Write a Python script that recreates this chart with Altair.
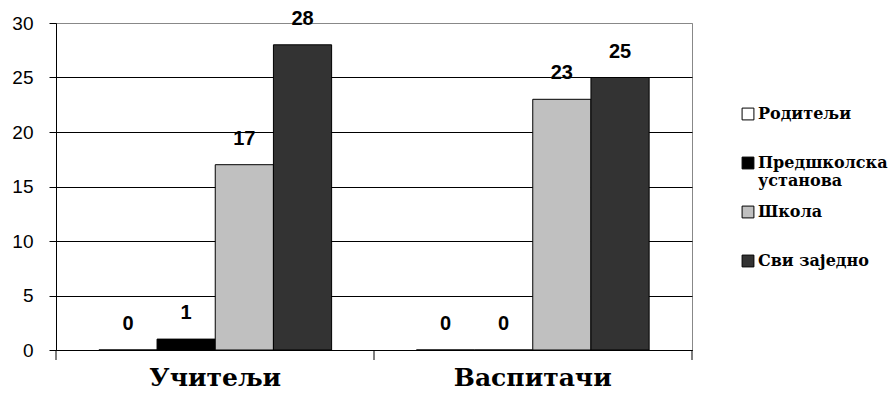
import altair as alt
import pandas as pd

# Survey counts per respondent group and answer category
groups = ["Учитељи", "Васпитачи"]
series = ["Родитељи", "Предшколска установа", "Школа", "Сви заједно"]
values_teachers = [0, 1, 17, 28]
values_preschool = [0, 0, 23, 25]
fills = ["#FFFFFF", "#000000", "#C0C0C0", "#333333"]
boundaries = [0, 1, 2]

SERIF = "DejaVu Serif"
SANS = "Liberation Sans"

rows = []
for g, vals in zip(groups, [values_teachers, values_preschool]):
    for s, v in zip(series, vals):
        rows.append({"group": g, "series": s, "value": v})
df = pd.DataFrame(rows)

x_enc = alt.X(
    "group:N",
    sort=groups,
    scale=alt.Scale(paddingInner=0.267, paddingOuter=0.135),
    axis=alt.Axis(
        title=None,
        labelAngle=0,
        ticks=False,
        labelFont=SERIF,
        labelFontWeight="bold",
        labelFontSize=25,
        labelColor="#000000",
        labelPadding=15,
        domainColor="#000000",
        domainWidth=1,
    ),
)
xoff = alt.XOffset("series:N", sort=series, scale=alt.Scale(paddingInner=0, paddingOuter=0))
y_enc = alt.Y(
    "value:Q",
    scale=alt.Scale(domain=[0, 30], nice=False),
    axis=alt.Axis(
        title=None,
        values=[0, 5, 10, 15, 20, 25, 30],
        labelFont=SANS,
        labelFontSize=19,
        labelColor="#000000",
        labelPadding=16,
        tickSize=7,
        tickColor="#000000",
        domainColor="#000000",
        gridColor={"condition": {"test": "datum.value === 30", "value": "#888888"}, "value": "#000000"},
        gridWidth=1,
        gridOpacity=1,
    ),
)

bars = alt.Chart(df).mark_bar(stroke="#000000", strokeWidth=1).encode(
    x=x_enc,
    xOffset=xoff,
    y=y_enc,
    color=alt.Color(
        "series:N",
        sort=series,
        scale=alt.Scale(domain=series, range=fills),
        legend=alt.Legend(
            title=None,
            orient="none",
            legendX=684,
            legendY=83,
            gridAlign="all",
            symbolType="square",
            symbolSize=140,
            symbolStrokeColor="#000000",
            symbolStrokeWidth=1,
            symbolOpacity=1,
            labelFont=SERIF,
            labelFontWeight="bold",
            labelFontSize=16,
            labelColor="#000000",
            labelOffset=2,
            labelLimit=200,
            rowPadding=15,
            labelExpr="datum.label == 'Предшколска установа' ? ['Предшколска', 'установа'] : datum.label",
        ),
    ),
)

labels = alt.Chart(df).mark_text(
    font=SANS,
    fontWeight="bold",
    fontSize=20,
    baseline="middle",
    dy=-26,
    color="#000000",
).encode(
    x=alt.X("group:N", sort=groups),
    xOffset=alt.XOffset("series:N", sort=series),
    y=alt.Y("value:Q"),
    text=alt.Text("value:Q"),
)

# category boundary ticks below the baseline
ticks = alt.Chart(pd.DataFrame({"b": boundaries})).mark_rule(color="#000000", strokeWidth=1).encode(
    x=alt.X("b:Q", scale=alt.Scale(domain=[0, 2], nice=False, zero=False), axis=None),
    y=alt.value(327),
    y2=alt.value(337),
)

chart = (
    alt.layer(alt.layer(bars, labels), ticks)
    .resolve_scale(x="independent")
    .properties(
        width=636,
        height=327,
        autosize=alt.AutoSizeParams(type="none"),
        padding={"left": 56, "top": 23, "right": 204, "bottom": 53},
        background="#FFFFFF",
    )
    .configure_view(stroke="#888888", strokeWidth=1)
    .configure_axis(grid=True)
    .configure_axisX(grid=False)
)

chart.save("out.html", embed_options={"renderer": "svg", "actions": False})
